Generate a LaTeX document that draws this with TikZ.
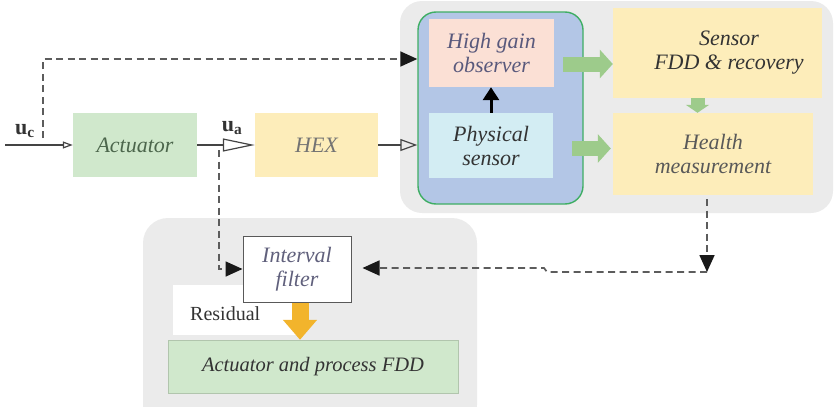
\documentclass[tikz,border=0pt]{standalone}
\usepackage{fontspec}
\setmainfont{Liberation Serif}[ItalicFont={Liberation Serif Italic}]
\usetikzlibrary{arrows.meta,calc}
\definecolor{panel}{HTML}{EBEBEB}
\definecolor{bluebox}{HTML}{B3C6E6}
\definecolor{blueedge}{HTML}{3FAE64}
\definecolor{pinkbox}{HTML}{FBE0D5}
\definecolor{cyanbox}{HTML}{D3EDF3}
\definecolor{yellowbox}{HTML}{FDEDBA}
\definecolor{greenbox}{HTML}{D0E8CC}
\definecolor{greenarrow}{HTML}{9DCB8B}
\definecolor{orangearrow}{HTML}{F2B42C}
\definecolor{dashcol}{HTML}{5C5C5C}
\definecolor{linecol}{HTML}{444444}
\tikzset{
  box/.style={rectangle, inner sep=0pt, align=center, font=\fontsize{22}{24}\selectfont\itshape},
  dsh/.style={draw=dashcol, line width=1.7pt, dash pattern=on 7pt off 4.5pt},
  blacktip/.style={-{Triangle[length=17pt,width=15pt,color=black!90]}},
  garrow/.style={draw=greenarrow, line width=15pt, -{Triangle[width=28pt,length=13pt]}},
  garrowsmall/.style={draw=greenarrow, line width=14pt, -{Triangle[width=23pt,length=8pt]}},
  solidline/.style={draw=linecol, line width=1.2pt},
  lbl/.style={inner sep=0pt, text=black!80, font=\fontsize{20}{22}\selectfont}
}
\begin{document}
\begin{tikzpicture}[x=1pt,y=-1pt]
\useasboundingbox (0,0) rectangle (836,407);
% panels
\fill[panel, rounded corners=22pt] (400,1) rectangle (833,213);
\fill[panel, rounded corners=25pt] (143,218) rectangle (477,430);
% blue group box
\node[draw=blueedge, fill=bluebox, line width=1.4pt, rounded corners=18pt, minimum width=165pt, minimum height=192pt, inner sep=0pt] (blue) at (500.5,108) {};
\node[box, fill=pinkbox, minimum width=125pt, minimum height=68pt, text=black!55!blue!30!gray] (hgo) at (491.5,53) {High gain\\observer};
\node[box, fill=cyanbox, minimum width=124pt, minimum height=65pt, text=black!80] (phys) at (491,145.5) {Physical\\sensor};
\node[box, fill=yellowbox, minimum width=209pt, minimum height=90pt] (sfdd) at (717.5,53) {};
\node[box, text=black!80] at (729,53) {Sensor\\FDD \& recovery};
\node[box, fill=yellowbox, minimum width=200pt, minimum height=82pt, text=black!65] (health) at (713,154) {Health\\measurement};
\node[box, fill=greenbox, minimum width=124pt, minimum height=64pt, text=black!75!green!40!gray] (act) at (135,145) {Actuator};
\node[box, fill=yellowbox, minimum width=123pt, minimum height=64pt, text=black!55] (hex) at (316.5,145) {HEX};
% residual area
\fill[white] (173,285) rectangle (300,335);
\node[lbl, anchor=west] (res) at (190,314) {Residual};
\node[box, fill=greenbox, draw=greenbox!85!black, line width=0.4pt, minimum width=290pt, minimum height=53pt, text=black!80, font=\fontsize{20.5}{24}\selectfont\itshape] (afdd) at (313,366.5) {Actuator and process FDD};
\node[box, fill=white, draw=black!65, line width=1pt, minimum width=108pt, minimum height=66pt, text=black!55!blue!25!gray] (filter) at (297,269) {Interval\\filter};
% labels
\node[lbl, font=\fontsize{22}{24}\selectfont] (uc) at (25,131) {$\mathbf{u}_{\mathbf{c}}$};
\node[lbl, font=\fontsize{22}{24}\selectfont] (ua) at (232,128) {$\mathbf{u}_{\mathbf{a}}$};
% coordinates
\coordinate (in) at (5,145);
\coordinate (d1) at (43,138);
\coordinate (d2) at (219,150);
\coordinate (c1) at (707,272);
\coordinate (jog1) at (547,272);
\coordinate (jog2) at (544,268);
% connectors
\draw[solidline, -{Triangle[open,length=10pt,width=7pt]}] (in) -- (act.west);
\draw[solidline, -{Triangle[open,length=32pt,width=13pt]}] (act.east) -- (hex.west);
\draw[solidline, -{Triangle[open,length=17pt,width=12pt]}] (hex.east) -- (hex.east -| blue.west);
\draw[dsh, blacktip] (d1) |- (blue.west |- 0,59);
\draw[dsh, blacktip] (d2) |- (filter.west);
\draw[dsh, blacktip] ([shift={(-6,4)}]health.south) -- (c1);
\draw[dsh, blacktip, shorten >=11pt] (c1) -- (jog1) -- (jog2) -- (filter.east |- jog2);
\draw[line width=3pt, -{Triangle[length=13pt,width=16pt]}] (phys.north) -- (phys.north |- hgo.south);
\draw[garrow] ([shift={(9,11)}]hgo.east) -- ([shift={(0,11)}]hgo.east -| sfdd.west);
\draw[garrow] ([shift={(19,3)}]phys.east) -- ([shift={(-2,3)}]phys.east -| health.west);
\draw[garrowsmall] ([shift={(-20,0)}]sfdd.south) -- ([shift={(-20,0)}]sfdd.south |- health.north);
\draw[draw=orangearrow, line width=17pt, -{Triangle[width=33pt,length=20pt]}] ([shift={(3,0)}]filter.south) -- ([shift={(3,0)}]filter.south |- afdd.north);
\end{tikzpicture}
\end{document}
